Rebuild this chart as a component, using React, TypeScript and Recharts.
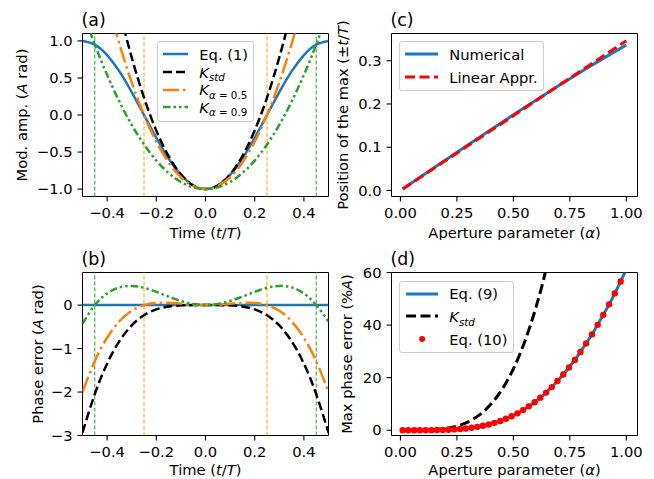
import React from 'react';
import {
  ComposedChart,
  Line,
  LineChart,
  ReferenceArea,
  ReferenceLine,
  Scatter,
  XAxis,
  YAxis,
} from 'recharts';

const FONT = '"DejaVu Sans", Verdana, sans-serif';
const FS = 14.7;
const TITLE_FS = 17.4;

const BLUE = '#1f77b4';
const ORANGE = '#ff7f0e';
const GREEN = '#2ca02c';
const RED = '#ff0000';

// ---- panels (a) and (b): time axis t/T ----
const tGrid = [
  -0.5, -0.45, -0.4, -0.35, -0.3, -0.25, -0.2, -0.15, -0.1, -0.05, 0,
  0.05, 0.1, 0.15, 0.2, 0.25, 0.3, 0.35, 0.4, 0.45, 0.5,
];
const modEq1 = [
  1, 0.951, 0.809, 0.588, 0.309, 0, -0.309, -0.588, -0.809, -0.951, -1,
  -0.951, -0.809, -0.588, -0.309, 0, 0.309, 0.588, 0.809, 0.951, 1,
];
const modKstd = [
  3.935, 2.997, 2.158, 1.418, 0.777, 0.234, -0.21, -0.556, -0.803, -0.951, -1,
  -0.951, -0.803, -0.556, -0.21, 0.234, 0.777, 1.418, 2.158, 2.997, 3.935,
];
const modK05 = [
  3.0, 2.24, 1.56, 0.96, 0.44, 0, -0.36, -0.64, -0.84, -0.96, -1,
  -0.96, -0.84, -0.64, -0.36, 0, 0.44, 0.96, 1.56, 2.24, 3.0,
];
const modK09 = [
  1.409, 0.951, 0.542, 0.18, -0.133, -0.398, -0.615, -0.783, -0.904, -0.976, -1,
  -0.976, -0.904, -0.783, -0.615, -0.398, -0.133, 0.18, 0.542, 0.951, 1.409,
];
const errEq1 = [0, 0, 0, 0, 0, 0, 0, 0, 0, 0, 0, 0, 0, 0, 0, 0, 0, 0, 0, 0, 0];
const errKstd = [
  -2.935, -2.046, -1.349, -0.83, -0.468, -0.234, -0.099, -0.032, -0.006, 0, 0,
  0, -0.006, -0.032, -0.099, -0.234, -0.468, -0.83, -1.349, -2.046, -2.935,
];
const errK05 = [
  -2.0, -1.289, -0.751, -0.372, -0.131, 0, 0.051, 0.052, 0.031, 0.009, 0,
  0.009, 0.031, 0.052, 0.051, 0, -0.131, -0.372, -0.751, -1.289, -2.0,
];
const errK09 = [
  -0.43, 0, 0.267, 0.408, 0.442, 0.398, 0.306, 0.195, 0.095, 0.025, 0,
  0.025, 0.095, 0.195, 0.306, 0.398, 0.442, 0.408, 0.267, 0, -0.38,
];
const guideOrange = [-0.25, 0.25];
const guideGreen = [-0.45, 0.45];
const timeTicks = [-0.4, -0.2, 0, 0.2, 0.4];
const modTicks = [-1, -0.5, 0, 0.5, 1];
const errTicks = [-3, -2, -1, 0];

// ---- panel (c): position of the max vs aperture ----
const alphaLine = [0.01, 0.1, 0.2, 0.3, 0.4, 0.5, 0.6, 0.7, 0.8, 0.9, 1.0];
const maxPosNum = [0.0035, 0.0353, 0.0706, 0.1057, 0.1404, 0.1748, 0.2088, 0.2421, 0.2746, 0.306, 0.3363];
const maxPosLin = [0.0035, 0.0346, 0.0692, 0.1038, 0.1384, 0.173, 0.2076, 0.2422, 0.2768, 0.3114, 0.346];
const alphaTicks = [0, 0.25, 0.5, 0.75, 1];
const posTicks = [0, 0.1, 0.2, 0.3];

// ---- panel (d): max phase error vs aperture ----
const alphaFine = [
  0.01, 0.035, 0.061, 0.086, 0.112, 0.137, 0.162, 0.188, 0.213, 0.238,
  0.264, 0.289, 0.315, 0.34, 0.365, 0.391, 0.416, 0.442, 0.467, 0.492,
  0.518, 0.543, 0.568, 0.594, 0.619, 0.645, 0.67, 0.695, 0.721, 0.746,
  0.772, 0.797, 0.822, 0.848, 0.873, 0.898, 0.924, 0.949, 0.975, 1.0,
];
const maxErrEq9 = [
  0, 0, 0.001, 0.006, 0.016, 0.036, 0.07, 0.124, 0.205, 0.32,
  0.476, 0.683, 0.95, 1.286, 1.701, 2.205, 2.809, 3.519, 4.353, 5.316,
  6.418, 7.67, 9.079, 10.646, 12.39, 14.313, 16.419, 18.71, 21.192, 23.866,
  26.721, 29.779, 33.028, 36.464, 40.09, 43.898, 47.881, 52.059, 56.6, 61.1,
];
const maxErrEq10 = maxErrEq9.slice(0, 39);
const alphaStd = [0.01, 0.05, 0.1, 0.15, 0.2, 0.25, 0.3, 0.35, 0.4, 0.45, 0.5, 0.55, 0.6, 0.65, 0.7];
const maxErrStd = [0, 0.003, 0.041, 0.204, 0.641, 1.553, 3.192, 5.85, 9.859, 15.573, 23.37, 33.635, 46.751, 63.096, 83.03];
const errPctTicks = [0, 20, 40, 60];

const rowsA = tGrid.map((t, i) => ({ t, eq1: modEq1[i], std: modKstd[i], k05: modK05[i], k09: modK09[i] }));
const rowsB = tGrid.map((t, i) => ({ t, eq1: errEq1[i], std: errKstd[i], k05: errK05[i], k09: errK09[i] }));
const rowsC = alphaLine.map((a, i) => ({ a, num: maxPosNum[i], lin: maxPosLin[i] }));
const rowsEq9 = alphaFine.map((a, i) => ({ a, v: maxErrEq9[i] }));
const rowsEq10 = maxErrEq10.map((v, i) => ({ a: alphaFine[i], v }));
const rowsStd = alphaStd.map((a, i) => ({ a, v: maxErrStd[i] }));

const fmt = (n: number) => (v: number) => `${v < 0 ? '\u2212' : ''}${Math.abs(v).toFixed(n)}`;

const tickStyle = { fill: '#000', fontSize: FS, fontFamily: FONT };
const tickLine = { stroke: '#000', strokeWidth: 1.1 };

const DASH = '9 4';
const DASH_DOT = '16 4 2.5 4';
const DASH_DOT_DOT = '7.5 3 2.5 3 2.5 3';

const It = ({ children }: { children: React.ReactNode }) => <tspan fontStyle="italic">{children}</tspan>;

const yTitle = (x: number, y: number, body: React.ReactNode) => () => (
  <text x={x} y={y} transform={`rotate(-90 ${x} ${y})`} textAnchor="middle" fontFamily={FONT} fontSize={FS} fill="#000">
    {body}
  </text>
);
const xTitle = (x: number, y: number, body: React.ReactNode) => () => (
  <text x={x} y={y} textAnchor="middle" fontFamily={FONT} fontSize={FS} fill="#000">
    {body}
  </text>
);

const timeLabel = (
  <>
    Time (<It>t</It>/<It>T</It>)
  </>
);
const alphaLabel = (
  <>
    Aperture parameter (<It>α</It>)
  </>
);

type Item = { label: React.ReactNode; color: string; width: number; dash?: string; dot?: boolean };

function LegendBox({
  left, top, width, height, rowTop, rowGap, handleX, handleW, textX, items,
}: {
  left: number; top: number; width: number; height: number; rowTop: number; rowGap: number;
  handleX: number; handleW: number; textX: number; items: Item[];
}) {
  return (
    <div
      style={{
        position: 'absolute', left, top, width, height, boxSizing: 'border-box',
        border: '1px solid #cccccc', borderRadius: 3, background: 'rgba(255,255,255,0.8)',
        fontFamily: FONT, fontSize: FS, color: '#000',
      }}
    >
      {items.map((it, i) => {
        const cy = rowTop + i * rowGap;
        return (
          <React.Fragment key={i}>
            <svg style={{ position: 'absolute', left: handleX, top: cy - 6 }} width={handleW} height={12}>
              {it.dot ? (
                <circle cx={handleW / 2} cy={6} r={3} fill={it.color} />
              ) : (
                <line x1={0} x2={handleW} y1={6} y2={6} stroke={it.color} strokeWidth={it.width} strokeDasharray={it.dash} />
              )}
            </svg>
            <div style={{ position: 'absolute', left: textX, top: cy - 8.5, lineHeight: '17px', whiteSpace: 'nowrap' }}>
              {it.label}
            </div>
          </React.Fragment>
        );
      })}
    </div>
  );
}

const Sub = ({ children }: { children: React.ReactNode }) => (
  <span style={{ fontSize: '70%', position: 'relative', top: '0.35em' }}>{children}</span>
);
const K = ({ sub }: { sub: React.ReactNode }) => (
  <span>
    <i>K</i>
    <Sub>{sub}</Sub>
  </span>
);

function PanelA() {
  return (
    <LineChart width={340} height={240} data={rowsA} margin={{ top: 33.5, right: 11.5, bottom: 0, left: 0 }}>
      <XAxis
        dataKey="t" type="number" domain={[-0.5, 0.5]} allowDataOverflow ticks={timeTicks} interval={0}
        tickFormatter={fmt(1)} height={43.5} axisLine={false} tickLine={tickLine} tickSize={5} tickMargin={6}
        tick={tickStyle} label={xTitle(205.5, 238, timeLabel)}
      />
      <YAxis
        type="number" domain={[-1.1, 1.1]} allowDataOverflow ticks={modTicks} interval={0}
        tickFormatter={fmt(1)} width={82.5} axisLine={false} tickLine={tickLine} tickSize={5} tickMargin={5}
        tick={tickStyle}
        label={yTitle(26.5, 115, <>Mod. amp. (<It>A</It> rad)</>)}
      />
      {guideOrange.map((x) => (
        <ReferenceLine key={`o${x}`} x={x} stroke="#ffa500" strokeWidth={1} strokeDasharray="4 2" />
      ))}
      {guideGreen.map((x) => (
        <ReferenceLine key={`g${x}`} x={x} stroke={GREEN} strokeWidth={1} strokeDasharray="4 2" />
      ))}
      <Line dataKey="eq1" type="natural" stroke={BLUE} strokeWidth={2.5} dot={false} activeDot={false} isAnimationActive={false} />
      <Line dataKey="std" type="natural" stroke="#000" strokeWidth={2.5} strokeDasharray={DASH} dot={false} activeDot={false} isAnimationActive={false} />
      <Line dataKey="k05" type="natural" stroke={ORANGE} strokeWidth={2.5} strokeDasharray={DASH_DOT} dot={false} activeDot={false} isAnimationActive={false} />
      <Line dataKey="k09" type="natural" stroke={GREEN} strokeWidth={2.5} strokeDasharray={DASH_DOT_DOT} dot={false} activeDot={false} isAnimationActive={false} />
      <ReferenceArea x1={-0.5} x2={0.5} y1={-1.1} y2={1.1} fill="none" stroke="#000" strokeWidth={1} />
    </LineChart>
  );
}

function PanelB() {
  return (
    <LineChart width={340} height={239} data={rowsB} margin={{ top: 32.5, right: 11.5, bottom: 0, left: 0 }}>
      <XAxis
        dataKey="t" type="number" domain={[-0.5, 0.5]} allowDataOverflow ticks={timeTicks} interval={0}
        tickFormatter={fmt(1)} height={43.5} axisLine={false} tickLine={tickLine} tickSize={5} tickMargin={6}
        tick={tickStyle} label={xTitle(205.5, 234.5, timeLabel)}
      />
      <YAxis
        type="number" domain={[-3, 0.75]} allowDataOverflow ticks={errTicks} interval={0}
        tickFormatter={fmt(0)} width={82.5} axisLine={false} tickLine={tickLine} tickSize={5} tickMargin={5}
        tick={tickStyle}
        label={yTitle(42.5, 114, <>Phase error (<It>A</It> rad)</>)}
      />
      {guideOrange.map((x) => (
        <ReferenceLine key={`o${x}`} x={x} stroke="#ffa500" strokeWidth={1} strokeDasharray="4 2" />
      ))}
      {guideGreen.map((x) => (
        <ReferenceLine key={`g${x}`} x={x} stroke={GREEN} strokeWidth={1} strokeDasharray="4 2" />
      ))}
      <Line dataKey="eq1" type="linear" stroke={BLUE} strokeWidth={2.5} dot={false} activeDot={false} isAnimationActive={false} />
      <Line dataKey="std" type="natural" stroke="#000" strokeWidth={2.5} strokeDasharray={DASH} dot={false} activeDot={false} isAnimationActive={false} />
      <Line dataKey="k05" type="natural" stroke={ORANGE} strokeWidth={2.5} strokeDasharray={DASH_DOT} dot={false} activeDot={false} isAnimationActive={false} />
      <Line dataKey="k09" type="natural" stroke={GREEN} strokeWidth={2.5} strokeDasharray={DASH_DOT_DOT} dot={false} activeDot={false} isAnimationActive={false} />
      <ReferenceArea x1={-0.5} x2={0.5} y1={-3} y2={0.75} fill="none" stroke="#000" strokeWidth={1} />
    </LineChart>
  );
}

function PanelC() {
  return (
    <LineChart width={324} height={240} data={rowsC} margin={{ top: 33.5, right: 16.5, bottom: 0, left: 0 }}>
      <XAxis
        dataKey="a" type="number" domain={[-0.0395, 1.0495]} allowDataOverflow ticks={alphaTicks} interval={0}
        tickFormatter={fmt(2)} height={43.5} axisLine={false} tickLine={tickLine} tickSize={5} tickMargin={6}
        tick={tickStyle} label={xTitle(184.5, 238, alphaLabel)}
      />
      <YAxis
        type="number" domain={[-0.014, 0.363]} allowDataOverflow ticks={posTicks} interval={0}
        tickFormatter={fmt(1)} width={61.5} axisLine={false} tickLine={tickLine} tickSize={5} tickMargin={5}
        tick={tickStyle}
        label={yTitle(18, 115, <>Position of the max (±<It>t</It>/<It>T</It>)</>)}
      />
      <Line dataKey="num" type="natural" stroke={BLUE} strokeWidth={3} dot={false} activeDot={false} isAnimationActive={false} />
      <Line dataKey="lin" type="linear" stroke={RED} strokeWidth={3} strokeDasharray="10 4.5" dot={false} activeDot={false} isAnimationActive={false} />
      <ReferenceArea x1={-0.0395} x2={1.0495} y1={-0.014} y2={0.363} fill="none" stroke="#000" strokeWidth={1} />
    </LineChart>
  );
}

function PanelD() {
  return (
    <ComposedChart width={324} height={239} margin={{ top: 32.5, right: 16.5, bottom: 0, left: 0 }}>
      <XAxis
        dataKey="a" type="number" domain={[-0.0395, 1.0495]} allowDataOverflow ticks={alphaTicks} interval={0}
        tickFormatter={fmt(2)} height={43.5} axisLine={false} tickLine={tickLine} tickSize={5} tickMargin={6}
        tick={tickStyle} label={xTitle(184.5, 234.5, alphaLabel)}
      />
      <YAxis
        type="number" domain={[-2, 60]} allowDataOverflow ticks={errPctTicks} interval={0}
        tickFormatter={fmt(0)} width={61.5} axisLine={false} tickLine={tickLine} tickSize={5} tickMargin={5}
        tick={tickStyle}
        label={yTitle(21.5, 114, <>Max phase error (%<It>A</It>)</>)}
      />
      <Line data={rowsEq9} dataKey="v" type="natural" stroke={BLUE} strokeWidth={3} dot={false} activeDot={false} isAnimationActive={false} />
      <Line data={rowsStd} dataKey="v" type="natural" stroke="#000" strokeWidth={3} strokeDasharray="10 4.5" dot={false} activeDot={false} isAnimationActive={false} />
      <Scatter
        data={rowsEq10} dataKey="v" fill={RED} isAnimationActive={false}
        shape={(p: { cx?: number; cy?: number }) => <circle cx={p.cx} cy={p.cy} r={3.2} fill={RED} />}
      />
      <ReferenceArea x1={-0.0395} x2={1.0495} y1={-2} y2={60} fill="none" stroke="#000" strokeWidth={1} />
    </ComposedChart>
  );
}

export default function App() {
  const titleStyle = { fontFamily: FONT, fontSize: TITLE_FS, fill: '#000' };
  return (
    <div style={{ position: 'absolute', left: 0, top: 0, width: 654, height: 479, background: '#fff', overflow: 'hidden' }}>
      <div style={{ position: 'absolute', left: 0, top: 0 }}>
        <PanelA />
      </div>
      <div style={{ position: 'absolute', left: 0, top: 240 }}>
        <PanelB />
      </div>
      <div style={{ position: 'absolute', left: 330, top: 0 }}>
        <PanelC />
      </div>
      <div style={{ position: 'absolute', left: 330, top: 240 }}>
        <PanelD />
      </div>
      <svg style={{ position: 'absolute', left: 0, top: 0, pointerEvents: 'none' }} width={654} height={479}>
        <text x={81.5} y={26} {...titleStyle}>(a)</text>
        <text x={81.5} y={264.5} {...titleStyle}>(b)</text>
        <text x={390.5} y={26.3} {...titleStyle}>(c)</text>
        <text x={390.5} y={265} {...titleStyle}>(d)</text>
      </svg>
      <LegendBox
        left={156.7} top={41} width={97.6} height={81} rowTop={12.3} rowGap={17.7}
        handleX={5} handleW={25} textX={41.6}
        items={[
          { label: 'Eq. (1)', color: BLUE, width: 2.5 },
          { label: <K sub={<i>std</i>} />, color: '#000', width: 2.5, dash: DASH },
          { label: <K sub={<><i>α</i> = 0.5</>} />, color: ORANGE, width: 2.5, dash: DASH_DOT },
          { label: <K sub={<><i>α</i> = 0.9</>} />, color: GREEN, width: 2.5, dash: DASH_DOT_DOT },
        ]}
      />
      <LegendBox
        left={399.3} top={41} width={145} height={50} rowTop={12.3} rowGap={22.7}
        handleX={4.7} handleW={33.3} textX={49}
        items={[
          { label: 'Numerical', color: BLUE, width: 3 },
          { label: 'Linear Appr.', color: RED, width: 3, dash: '10 4.5' },
        ]}
      />
      <LegendBox
        left={399.3} top={280.7} width={114.4} height={72.6} rowTop={12} rowGap={22.8}
        handleX={5.7} handleW={32.3} textX={49}
        items={[
          { label: 'Eq. (9)', color: BLUE, width: 3 },
          { label: <K sub={<i>std</i>} />, color: '#000', width: 3, dash: '10 4.5' },
          { label: 'Eq. (10)', color: RED, width: 3, dot: true },
        ]}
      />
    </div>
  );
}
